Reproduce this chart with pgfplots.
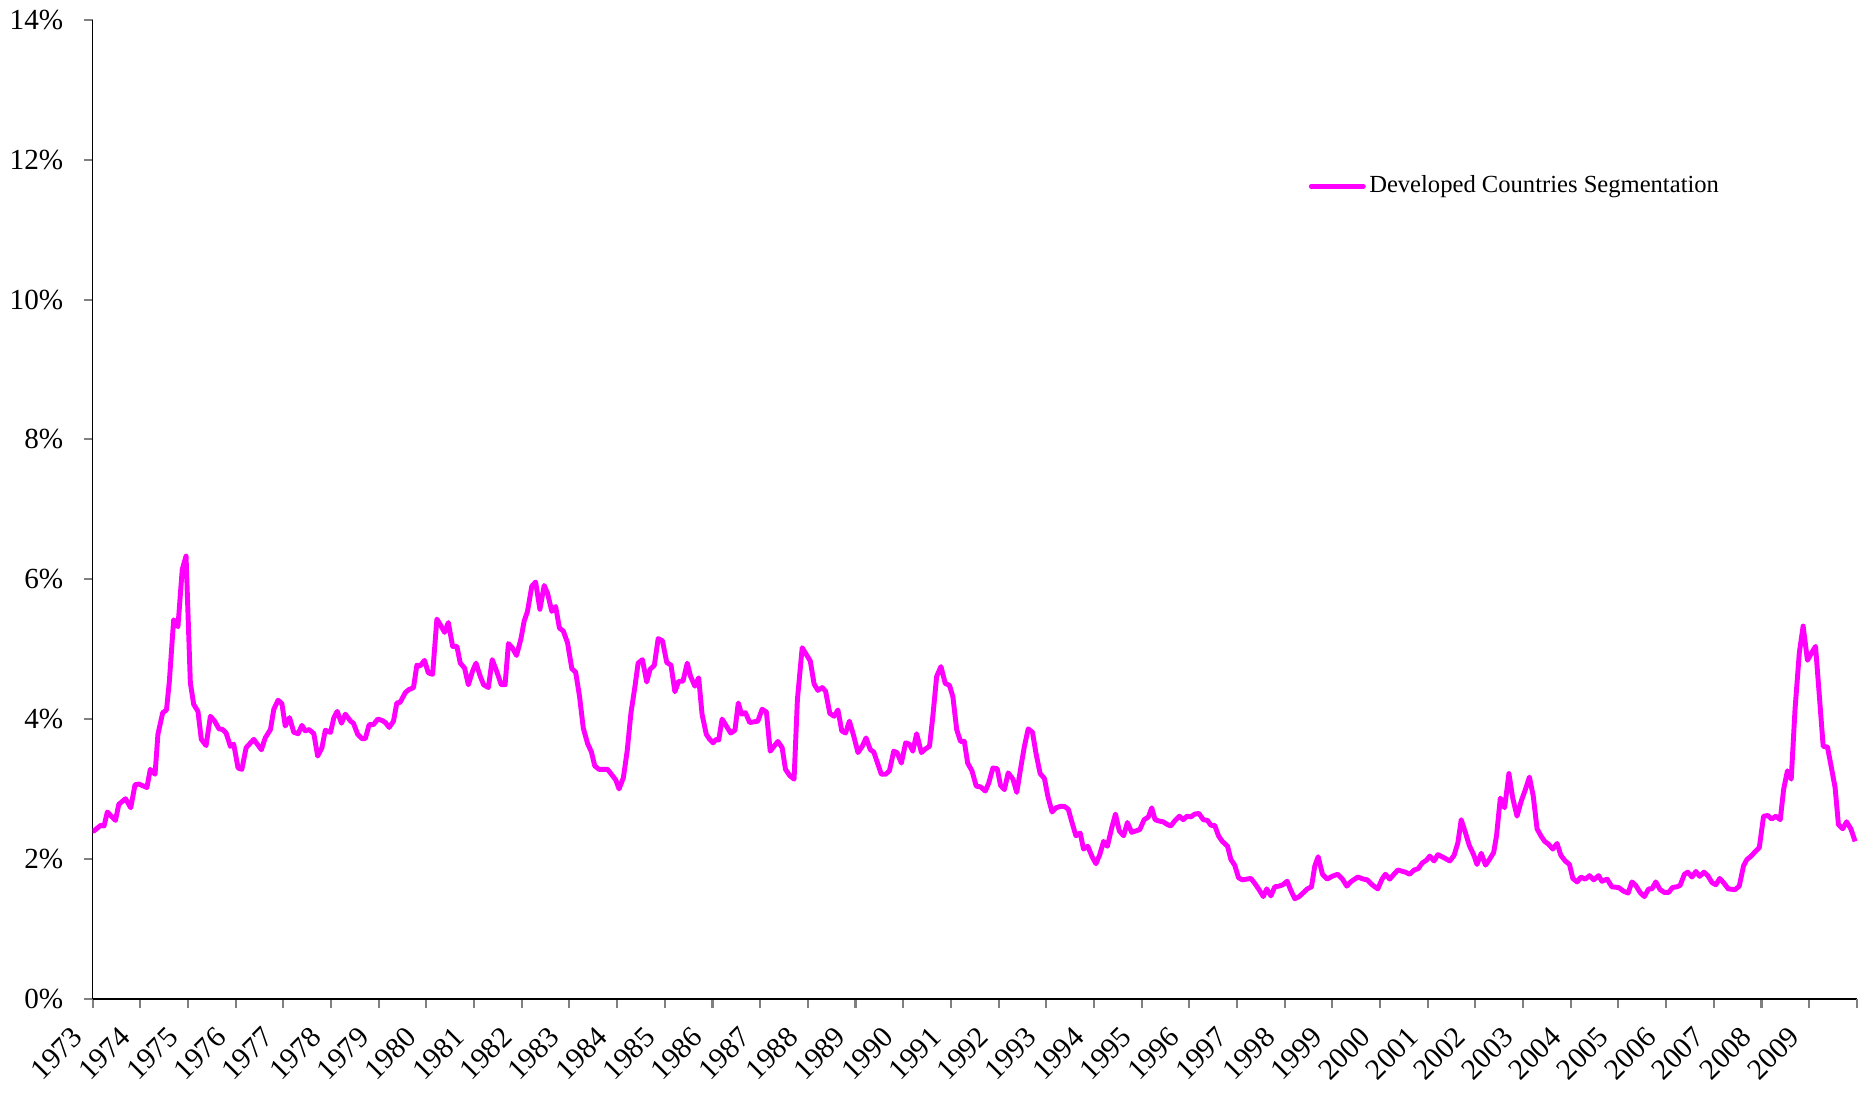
\documentclass[border=0pt]{standalone}
\usepackage{fontspec}
\setmainfont{Liberation Serif}
\usepackage{pgfplots}
\pgfplotsset{compat=1.18}
\definecolor{mag}{RGB}{255,0,255}
\begin{document}
\fontsize{8.3}{10}\selectfont
\begin{tikzpicture}
\begin{axis}[
  scale only axis,
  width=17.65cm, height=9.79cm,
  xmin=1973, xmax=2010, ymin=0, ymax=14,
  axis lines=left,
  axis line style={-, black, line width=0.5pt},
  xtick={1973,...,2009},
  extra x ticks={2010}, extra x tick labels={},
  ytick={0,2,...,14},
  /pgf/number format/assume math mode=true,
  xticklabel={\pgfmathprintnumber[set thousands separator={},fixed,precision=0]{\tick}},
  yticklabel={\pgfmathprintnumber{\tick}\%},
  tick align=outside,
  major tick length=0.09cm,
  tick style={gray, line width=0.6pt},
  xticklabel style={xshift=-0.22cm, yshift=-0.12cm, rotate=45, anchor=north east, inner sep=1pt, font=\fontsize{8.4}{10}\selectfont},
  yticklabel style={anchor=east, xshift=-0.1cm},
  legend style={draw=none, fill=none, at={(axis cs:1998.49,11.62)}, anchor=west, inner xsep=0pt,
    font=\fontsize{7}{9}\selectfont, nodes={inner xsep=1pt}},
  legend cell align=left,
  legend image code/.code={\draw[#1, line cap=round] (0cm,0cm) -- (0.52cm,0cm);},
  clip=false,
]
\addplot[mag, line width=1.4pt, line join=round] coordinates {
(1973.0,2.40) (1973.03,2.40) (1973.17,2.48) (1973.24,2.47) (1973.31,2.67) (1973.48,2.55) (1973.55,2.78)
(1973.69,2.86) (1973.80,2.73) (1973.89,3.06) (1973.97,3.07) (1974.14,3.02) (1974.21,3.28) (1974.31,3.21)
(1974.37,3.78) (1974.47,4.09) (1974.55,4.13) (1974.61,4.54) (1974.70,5.42) (1974.79,5.32) (1974.88,6.14)
(1974.96,6.33) (1975.05,4.52) (1975.12,4.21) (1975.21,4.11) (1975.28,3.71) (1975.38,3.62) (1975.47,4.04)
(1975.56,3.97) (1975.65,3.86) (1975.73,3.85) (1975.80,3.80) (1975.89,3.61) (1975.96,3.64) (1976.05,3.30)
(1976.13,3.28) (1976.22,3.59) (1976.38,3.71) (1976.54,3.56) (1976.62,3.73) (1976.73,3.85) (1976.80,4.14)
(1976.89,4.27) (1976.97,4.22) (1977.04,3.90) (1977.13,4.02) (1977.22,3.81) (1977.31,3.79) (1977.39,3.91)
(1977.46,3.83) (1977.54,3.85) (1977.64,3.79) (1977.72,3.47) (1977.81,3.59) (1977.88,3.84) (1977.99,3.81)
(1978.06,4.02) (1978.13,4.11) (1978.22,3.94) (1978.30,4.07) (1978.41,3.97) (1978.47,3.94) (1978.56,3.78)
(1978.65,3.72) (1978.72,3.72) (1978.80,3.92) (1978.89,3.92) (1978.98,4.00) (1979.07,3.98) (1979.14,3.95)
(1979.22,3.88) (1979.31,3.97) (1979.38,4.23) (1979.45,4.24) (1979.56,4.38) (1979.63,4.42) (1979.73,4.45)
(1979.80,4.77) (1979.87,4.76) (1979.96,4.84) (1980.04,4.66) (1980.13,4.64) (1980.22,5.43) (1980.30,5.34)
(1980.38,5.24) (1980.46,5.38) (1980.55,5.04) (1980.64,5.04) (1980.71,4.80) (1980.80,4.73) (1980.88,4.49)
(1980.97,4.69) (1981.04,4.80) (1981.13,4.61) (1981.20,4.49) (1981.30,4.45) (1981.38,4.85) (1981.47,4.69)
(1981.57,4.49) (1981.65,4.49) (1981.72,5.08) (1981.80,5.02) (1981.89,4.91) (1981.98,5.14) (1982.05,5.40)
(1982.12,5.54) (1982.21,5.90) (1982.29,5.96) (1982.38,5.57) (1982.47,5.91) (1982.54,5.80) (1982.63,5.54)
(1982.71,5.61) (1982.79,5.30) (1982.87,5.26) (1982.96,5.09) (1983.05,4.72) (1983.13,4.67) (1983.21,4.33)
(1983.29,3.87) (1983.38,3.65) (1983.46,3.53) (1983.53,3.33) (1983.62,3.28) (1983.71,3.28) (1983.80,3.28)
(1983.88,3.21) (1983.97,3.13) (1984.04,3.00) (1984.13,3.16) (1984.21,3.54) (1984.29,4.09) (1984.37,4.45)
(1984.44,4.80) (1984.53,4.85) (1984.62,4.53) (1984.69,4.71) (1984.78,4.77) (1984.86,5.15) (1984.95,5.12)
(1985.04,4.81) (1985.13,4.77) (1985.21,4.39) (1985.29,4.54) (1985.38,4.54) (1985.47,4.80) (1985.54,4.61)
(1985.63,4.47) (1985.71,4.59) (1985.78,4.07) (1985.87,3.78) (1985.94,3.71) (1986.01,3.66) (1986.08,3.71)
(1986.13,3.70) (1986.20,4.00) (1986.29,3.90) (1986.38,3.80) (1986.47,3.84) (1986.54,4.23) (1986.61,4.07)
(1986.69,4.09) (1986.78,3.95) (1986.87,3.96) (1986.95,3.97) (1987.04,4.14) (1987.13,4.10) (1987.21,3.54)
(1987.29,3.61) (1987.37,3.68) (1987.46,3.59) (1987.53,3.28) (1987.62,3.19) (1987.71,3.14) (1987.78,4.28)
(1987.88,5.02) (1987.97,4.92) (1988.05,4.83) (1988.13,4.50) (1988.21,4.41) (1988.30,4.45) (1988.37,4.40)
(1988.46,4.08) (1988.55,4.04) (1988.63,4.13) (1988.71,3.83) (1988.79,3.80) (1988.87,3.97) (1988.96,3.76)
(1989.05,3.52) (1989.14,3.61) (1989.22,3.73) (1989.31,3.56) (1989.38,3.53) (1989.47,3.35) (1989.54,3.21)
(1989.63,3.21) (1989.71,3.26) (1989.80,3.54) (1989.87,3.52) (1989.96,3.37) (1990.05,3.66) (1990.13,3.64)
(1990.20,3.54) (1990.28,3.79) (1990.38,3.52) (1990.46,3.57) (1990.55,3.61) (1990.62,4.04) (1990.70,4.61)
(1990.79,4.75) (1990.88,4.51) (1990.97,4.48) (1991.04,4.32) (1991.12,3.85) (1991.20,3.68) (1991.28,3.68)
(1991.35,3.37) (1991.44,3.26) (1991.53,3.04) (1991.62,3.03) (1991.72,2.97) (1991.79,3.08) (1991.88,3.30)
(1991.97,3.29) (1992.04,3.05) (1992.12,2.99) (1992.20,3.23) (1992.30,3.14) (1992.38,2.95) (1992.47,3.33)
(1992.54,3.61) (1992.62,3.86) (1992.71,3.81) (1992.78,3.52) (1992.87,3.22) (1992.96,3.15) (1993.03,2.90)
(1993.12,2.67) (1993.20,2.73) (1993.29,2.75) (1993.38,2.75) (1993.46,2.71) (1993.53,2.54) (1993.62,2.33)
(1993.71,2.37) (1993.78,2.14) (1993.87,2.18) (1993.96,2.03) (1994.04,1.93) (1994.12,2.06) (1994.20,2.25)
(1994.28,2.18) (1994.37,2.44) (1994.45,2.64) (1994.53,2.40) (1994.62,2.33) (1994.70,2.52) (1994.79,2.38)
(1994.88,2.40) (1994.96,2.42) (1995.05,2.56) (1995.14,2.60) (1995.21,2.73) (1995.28,2.56) (1995.37,2.54)
(1995.45,2.53) (1995.54,2.49) (1995.61,2.47) (1995.70,2.55) (1995.79,2.61) (1995.87,2.56) (1995.95,2.61)
(1996.03,2.60) (1996.11,2.64) (1996.20,2.65) (1996.29,2.56) (1996.38,2.55) (1996.45,2.48) (1996.53,2.48)
(1996.61,2.33) (1996.69,2.25) (1996.80,2.18) (1996.87,1.99) (1996.95,1.91) (1997.03,1.73) (1997.11,1.70)
(1997.20,1.71) (1997.29,1.72) (1997.37,1.65) (1997.46,1.56) (1997.55,1.46) (1997.62,1.57) (1997.71,1.47)
(1997.79,1.60) (1997.88,1.61) (1997.96,1.63) (1998.05,1.68) (1998.12,1.56) (1998.21,1.43) (1998.30,1.46)
(1998.38,1.51) (1998.47,1.57) (1998.56,1.60) (1998.63,1.90) (1998.70,2.03) (1998.79,1.78) (1998.89,1.71)
(1998.99,1.75) (1999.11,1.78) (1999.21,1.71) (1999.30,1.61) (1999.38,1.67) (1999.53,1.74) (1999.65,1.71)
(1999.73,1.70) (1999.83,1.63) (1999.95,1.57) (2000.04,1.71) (2000.11,1.78) (2000.20,1.71) (2000.29,1.78)
(2000.37,1.84) (2000.53,1.81) (2000.62,1.78) (2000.71,1.84) (2000.80,1.86) (2000.88,1.94) (2000.97,1.98)
(2001.04,2.04) (2001.13,1.97) (2001.21,2.06) (2001.30,2.03) (2001.38,2.00) (2001.46,1.97) (2001.55,2.05)
(2001.63,2.23) (2001.70,2.56) (2001.79,2.37) (2001.87,2.19) (2001.96,2.06) (2002.03,1.92) (2002.12,2.08)
(2002.21,1.91) (2002.29,1.99) (2002.38,2.09) (2002.44,2.33) (2002.52,2.87) (2002.61,2.73) (2002.70,3.22)
(2002.78,2.87) (2002.87,2.61) (2002.96,2.83) (2003.05,3.00) (2003.13,3.17) (2003.21,2.90) (2003.29,2.43)
(2003.37,2.33) (2003.45,2.25) (2003.53,2.21) (2003.62,2.14) (2003.71,2.22) (2003.79,2.05) (2003.88,1.97)
(2003.97,1.92) (2004.04,1.72) (2004.13,1.67) (2004.21,1.74) (2004.30,1.71) (2004.39,1.76) (2004.48,1.70)
(2004.58,1.76) (2004.65,1.68) (2004.76,1.71) (2004.86,1.60) (2005.00,1.59) (2005.10,1.54) (2005.20,1.51)
(2005.28,1.67) (2005.36,1.62) (2005.45,1.52) (2005.54,1.46) (2005.63,1.57) (2005.70,1.57) (2005.78,1.67)
(2005.87,1.56) (2005.96,1.52) (2006.05,1.52) (2006.13,1.59) (2006.22,1.60) (2006.29,1.62) (2006.38,1.78)
(2006.45,1.81) (2006.54,1.74) (2006.62,1.82) (2006.70,1.75) (2006.79,1.81) (2006.87,1.76) (2006.96,1.66)
(2007.04,1.63) (2007.12,1.72) (2007.20,1.66) (2007.30,1.57) (2007.44,1.56) (2007.53,1.61) (2007.62,1.90)
(2007.69,1.99) (2007.78,2.04) (2007.86,2.10) (2007.95,2.16) (2008.04,2.61) (2008.13,2.62) (2008.21,2.57)
(2008.30,2.61) (2008.39,2.56) (2008.46,2.99) (2008.54,3.26) (2008.62,3.14) (2008.70,4.14) (2008.79,4.95)
(2008.87,5.33) (2008.96,4.84) (2009.05,4.95) (2009.13,5.04) (2009.21,4.33) (2009.29,3.61) (2009.38,3.60)
(2009.45,3.35) (2009.54,3.02) (2009.61,2.49) (2009.70,2.43) (2009.78,2.53) (2009.87,2.43) (2009.96,2.25)
};
\addlegendentry{Developed Countries Segmentation}
\coordinate (bl) at (rel axis cs:0,0);
\end{axis}
\path (bl) ++(-0.92cm,-0.96cm) rectangle ++(18.68cm,10.95cm);
\end{tikzpicture}
\end{document}
